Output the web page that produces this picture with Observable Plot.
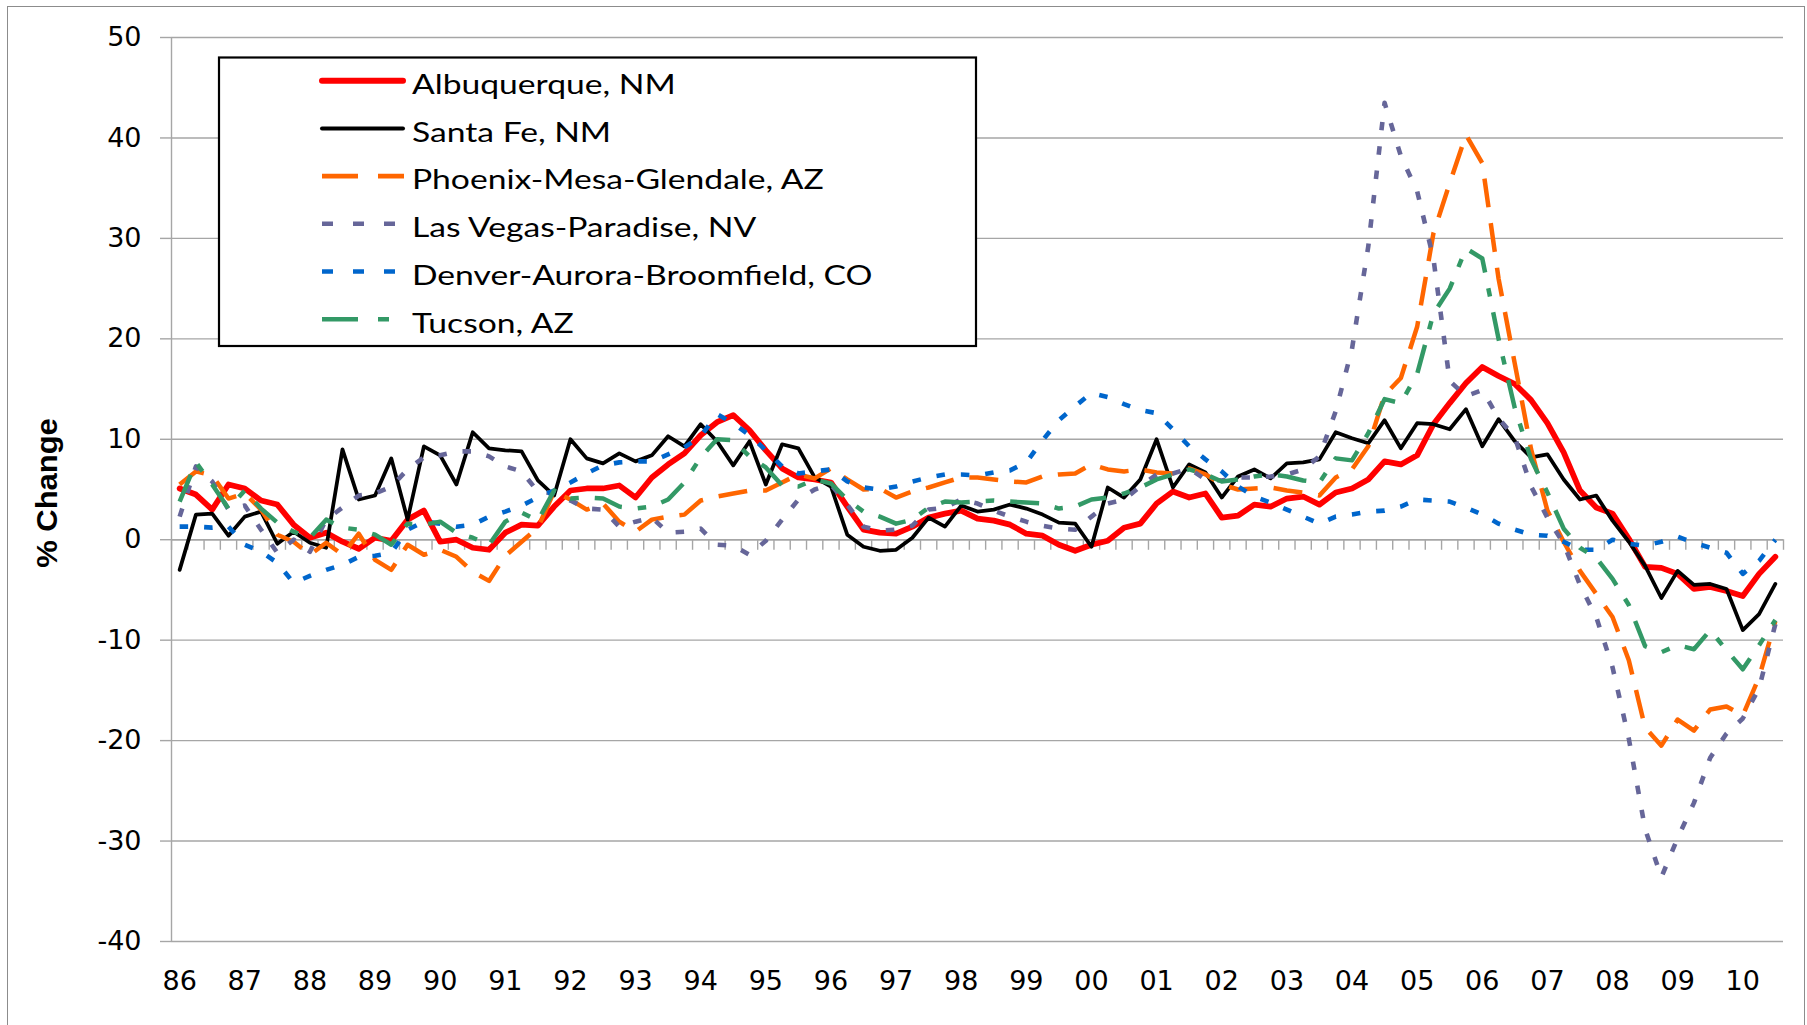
<!DOCTYPE html>
<html>
<head>
<meta charset="utf-8">
<script src="https://cdn.jsdelivr.net/npm/d3@7"></script>
<script src="https://cdn.jsdelivr.net/npm/@observablehq/plot@0.6"></script>
<style>
  html, body { margin: 0; padding: 0; background: #fff; }
  #wrap { position: relative; width: 1807px; height: 1025px; overflow: hidden; background: #fff; }
  #border { position: absolute; left: 7px; top: 6px; width: 1798px; height: 1040px; border: 1.5px solid #8c8c8c; box-sizing: border-box; pointer-events: none; }
  #wrap svg { position: absolute; left: 0; top: 0; }
</style>
</head>
<body>
<div id="wrap"><div id="border"></div></div>
<script>
// ---- Data (quarterly % change, 1986Q1 .. 2010Q3) ----
const yearLabels = ["86","87","88","89","90","91","92","93","94","95","96","97","98","99","00","01","02","03","04","05","06","07","08","09","10"];
const seriesNames = ["Albuquerque, NM","Santa Fe, NM","Phoenix-Mesa-Glendale, AZ","Las Vegas-Paradise, NV","Denver-Aurora-Broomfield, CO","Tucson, AZ"];
const yTicks = [-40,-30,-20,-10,0,10,20,30,40,50];

const albuquerque = [
  5.1, 4.5, 3.0, 5.5, 5.1, 3.9, 3.5, 1.5, 0.2, 0.7, -0.2, -0.9, 0.2, -0.1, 2.0, 2.9, -0.2, 0.0, -0.8,
  -1.0, 0.7, 1.5, 1.4, 3.3, 4.9, 5.1, 5.1, 5.4, 4.2, 6.2, 7.5, 8.6, 10.4, 11.7, 12.4, 10.9, 8.9,
  7.1, 6.2, 6.0, 5.7, 3.3, 1.0, 0.7, 0.6, 1.3, 2.2, 2.6, 2.9, 2.1, 1.9, 1.5, 0.6, 0.4, -0.5, -1.1,
  -0.5, -0.1, 1.2, 1.6, 3.6, 4.8, 4.2, 4.6, 2.2, 2.4, 3.5, 3.3, 4.1, 4.3, 3.5, 4.7, 5.1, 6.0,
  7.8, 7.5, 8.4, 11.5, 13.6, 15.6, 17.2, 16.3, 15.5, 13.9, 11.6, 8.7,
  4.9, 3.2, 2.6, 0.1, -2.7, -2.8, -3.4, -4.9, -4.7, -5.1, -5.6, -3.4, -1.7
];
const santaFe = [
  -3.0, 2.5, 2.6, 0.4, 2.3, 2.8, -0.4, 0.8, -0.3, -0.8, 9.0, 4.0, 4.4, 8.1, 2.0, 9.3, 8.4, 5.5, 10.7,
  9.1, 8.9, 8.8, 5.9, 4.4, 10.0, 8.1, 7.6, 8.6, 7.8, 8.4, 10.3, 9.3, 11.5, 9.8, 7.4, 9.8, 5.5,
  9.5, 9.1, 6.2, 5.3, 0.5, -0.7, -1.1, -1.0, 0.2, 2.2, 1.3, 3.4, 2.8, 3.0, 3.5, 3.1, 2.5, 1.7, 1.6,
  -0.7, 5.2, 4.2, 6.0, 10.0, 5.2, 7.5, 6.7, 4.2, 6.3, 7.0, 6.1, 7.6, 7.7, 8.0, 10.7, 10.1, 9.6,
  11.9, 9.1, 11.6, 11.5, 11.0, 13.0, 9.3, 12.0, 9.8, 8.2, 8.5, 6.0,
  4.0, 4.4, 1.9, -0.2, -2.6, -5.8, -3.1, -4.5, -4.4, -4.9, -9.0, -7.4, -4.4
];
const phoenix = [
  5.5, 6.8, 6.4, 4.1, 4.6, 3.0, 0.5, -0.2, -1.5, -0.3, -1.5, 0.6, -2.0, -3.0, -0.5, -1.5, -1.0, -1.7, -3.2,
  -4.1, -1.6, -0.2, 1.2, 4.8, 4.0, 3.0, 3.6, 1.8, 0.8, 2.0, 2.3, 2.5, 3.9, 4.3, 4.6, 4.9, 4.9,
  5.7, 6.5, 6.1, 7.1, 6.0, 5.0, 5.1, 4.2, 4.8, 5.2, 5.7, 6.2, 6.2, 6.0, 5.8, 5.7, 6.3, 6.5, 6.6,
  7.5, 7.0, 6.8, 7.0, 6.7, 6.6, 7.1, 6.5, 5.5, 5.0, 5.1, 5.2, 4.9, 4.7, 4.4, 6.2, 7.0, 9.3,
  14.4, 16.1, 21.2, 30.5, 35.5, 40.3, 37.5, 26.0, 17.5, 9.0, 2.9, -0.2,
  -3.1, -5.4, -7.7, -12.0, -18.7, -20.5, -17.9, -19.0, -16.9, -16.6, -17.5, -13.7, -8.1
];
const lasVegas = [
  2.3, 7.3, 5.8, 3.0, 3.4, 1.0, -1.3, 0.0, -1.2, 2.0, 3.2, 4.4, 4.6, 5.3, 7.0, 8.2, 8.4, 8.8, 8.8,
  8.3, 7.3, 6.8, 4.8, 4.6, 3.9, 3.1, 3.0, 1.3, 1.8, 2.2, 0.7, 0.8, 1.1, -0.5, -0.6, -1.5, -0.1,
  2.0, 4.0, 5.0, 5.5, 3.5, 1.3, 0.9, 1.0, 1.4, 3.0, 3.2, 4.0, 3.6, 2.9, 2.3, 1.8, 1.4, 1.1, 1.0,
  2.3, 3.6, 4.0, 5.3, 6.5, 6.6, 7.1, 6.0, 5.9, 6.2, 6.2, 6.3, 6.5, 7.0, 8.3, 12.8, 19.0, 29.2,
  43.5, 38.2, 34.7, 28.0, 15.8, 14.3, 14.9, 12.1, 10.2, 5.3, 2.2, -0.4,
  -4.5, -7.7, -12.7, -19.8, -28.8, -33.6, -29.7, -26.2, -21.7, -19.3, -17.8, -14.8, -8.4
];
const denver = [
  1.3, 1.3, 1.2, 1.3, -0.5, -1.2, -2.3, -4.3, -3.6, -3.0, -2.5, -1.7, -1.6, -1.3, 1.0, 1.8, 1.6, 1.3, 1.5,
  2.3, 2.8, 3.4, 4.2, 4.9, 5.7, 6.6, 7.4, 7.7, 7.8, 7.8, 8.5, 9.2, 10.3, 12.5, 11.6, 10.4, 8.9,
  7.3, 6.6, 6.8, 7.0, 5.8, 5.2, 5.0, 5.3, 5.8, 6.2, 6.5, 6.5, 6.4, 6.7, 6.9, 7.7, 9.9, 11.9, 13.3,
  14.6, 14.2, 13.5, 12.9, 12.6, 11.0, 9.3, 8.0, 6.8, 5.3, 4.3, 3.7, 3.0, 2.3, 1.6, 2.3, 2.5, 2.8,
  2.9, 3.3, 4.0, 3.9, 3.8, 3.2, 2.5, 1.6, 1.0, 0.5, 0.4, -0.2,
  -1.0, -1.0, 0.0, -0.4, -0.6, -0.2, 0.3, -0.3, -0.8, -1.3, -3.4, -2.1, 0.0
];
const tucson = [
  3.8, 7.7, 5.5, 3.1, 4.9, 3.1, 1.7, 0.8, 0.2, 2.0, 1.2, 1.0, 0.5, -0.5, 1.6, 1.5, 1.8, 0.7, 0.2,
  -0.5, 1.8, 2.7, 1.9, 4.9, 4.1, 4.2, 4.1, 3.3, 3.1, 3.3, 4.0, 5.7, 8.2, 10.0, 9.9, 8.3, 7.2,
  5.4, 5.3, 6.0, 5.6, 4.0, 2.8, 2.3, 1.6, 2.0, 3.2, 3.8, 3.7, 3.8, 3.9, 3.8, 3.7, 3.6, 3.1, 3.3,
  4.0, 4.2, 4.6, 5.2, 6.0, 6.5, 7.0, 6.5, 5.8, 6.0, 6.3, 6.5, 6.3, 5.9, 5.7, 8.1, 7.9, 10.6,
  14.0, 13.6, 16.5, 22.5, 25.0, 29.0, 28.0, 20.0, 13.1, 8.0, 4.7, 1.1,
  -0.8, -1.8, -3.9, -6.5, -10.6, -11.2, -10.5, -10.9, -9.0, -11.0, -12.9, -10.5, -8.0
];

// ---- Styles (kept separate from data) ----
const seriesValues = [albuquerque, santaFe, phoenix, lasVegas, denver, tucson];
const seriesStyle = [
  {stroke: "#FF0000", width: 5.75, dash: null, legendDash: null, cap: "round"},
  {stroke: "#000000", width: 3.75, dash: null, legendDash: null, cap: "round"},
  {stroke: "#FF6600", width: 4.5, dash: "29,16", legendDash: "36,20", cap: "butt"},
  {stroke: "#666699", width: 4.6, dash: "8.5,16", legendDash: "11,20", cap: "butt"},
  {stroke: "#0066CC", width: 4.6, dash: "8.5,16", legendDash: "11,20", cap: "butt"},
  {stroke: "#339966", width: 4.5, dash: "29,16,8.5,16", legendDash: "36,20,11,20", cap: "butt"}
];
const gridColor = "#A6A6A6";

// ---- Build table ----
const n = albuquerque.length;
const rows = [];
seriesValues.forEach((vals, s) => vals.forEach((v, i) => rows.push({series: seriesNames[s], i, v})));
const xDomain = [-0.5, n - 0.5];
const boundaries = d3.range(n + 1).map(k => k - 0.5);
const labelIdx = yearLabels.map((_, k) => 4 * k).filter(i => i < n);

const lineMarks = seriesNames.map((name, s) => Plot.line(rows.filter(r => r.series === name), {
  x: "i", y: "v",
  stroke: seriesStyle[s].stroke,
  strokeWidth: seriesStyle[s].width,
  strokeDasharray: seriesStyle[s].dash,
  strokeLinejoin: "round",
  strokeLinecap: seriesStyle[s].cap
}));

const chart = Plot.plot({
  width: 1807, height: 1025,
  marginLeft: 171, marginRight: 24, marginTop: 37, marginBottom: 84,
  x: {domain: xDomain, axis: null},
  y: {domain: [yTicks[0], yTicks[yTicks.length - 1]], axis: null},
  style: {background: "transparent", fontFamily: "DejaVu Sans", color: "#000", overflow: "visible"},
  marks: [
    Plot.gridY(yTicks, {stroke: gridColor, strokeOpacity: 1, strokeWidth: 1.4}),
    Plot.ruleX([xDomain[0]], {stroke: gridColor, strokeWidth: 1.4}),
    Plot.ruleY([0], {stroke: gridColor, strokeWidth: 1.4}),
    Plot.ruleX(boundaries, {y1: 0, y2: -1.05, stroke: gridColor, strokeWidth: 1.4}),
    Plot.axisY(yTicks, {tickSize: 11, tickPadding: 19, fontSize: 27, stroke: gridColor, strokeWidth: 1.4, fill: "#000", tickFormat: d => String(d), label: null}),
    Plot.text(labelIdx, {x: d => d, text: d => yearLabels[d / 4], frameAnchor: "bottom", dy: 48, fontSize: 27, fill: "#000"}),
    ...lineMarks
  ]
});

document.getElementById("wrap").appendChild(chart);

// ---- Legend and axis title ----
const svg = d3.select(chart);
svg.append("text")
  .attr("transform", "translate(57,493) rotate(-90) scale(1.05,1)")
  .attr("text-anchor", "middle")
  .attr("font-family", "Liberation Sans, Arial, sans-serif")
  .attr("font-weight", "bold")
  .attr("font-size", 29.5)
  .attr("fill", "#000")
  .text("% Change");

const lg = svg.append("g").attr("text-anchor", "start");
lg.append("rect").attr("x", 219).attr("y", 57.5).attr("width", 757).attr("height", 288.5)
  .attr("fill", "#fff").attr("stroke", "#000").attr("stroke-width", 2.2);
seriesNames.forEach((name, s) => {
  const cy = 80.7 + s * 47.7;
  const st = seriesStyle[s];
  lg.append("line")
    .attr("x1", 322).attr("x2", st.dash ? 404 : 403)
    .attr("y1", cy).attr("y2", cy)
    .attr("stroke", st.stroke).attr("stroke-width", st.dash ? 4.6 : (s === 0 ? 6 : 4))
    .attr("stroke-linecap", st.cap)
    .attr("stroke-dasharray", st.legendDash);
  lg.append("text")
    .attr("transform", `translate(412,${cy + 13.3}) scale(1.27,1)`)
    .attr("text-anchor", "start")
    .attr("font-family", "Lato, sans-serif")
    .attr("font-size", 26.5)
    .attr("fill", "#000")
    .text(name);
});
</script>
</body>
</html>
